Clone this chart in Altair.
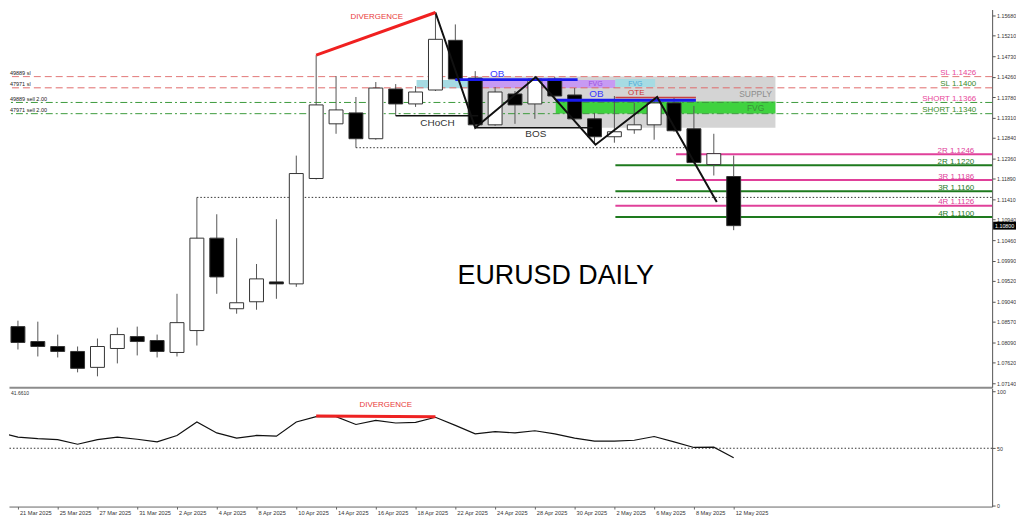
import altair as alt
import pandas as pd

FONT = "Liberation Sans"

# ---------------- data ----------------
dates = ["20 Mar 2025", "21 Mar 2025", "24 Mar 2025", "25 Mar 2025", "26 Mar 2025", "27 Mar 2025",
         "28 Mar 2025", "31 Mar 2025", "1 Apr 2025", "2 Apr 2025", "3 Apr 2025", "4 Apr 2025",
         "7 Apr 2025", "8 Apr 2025", "9 Apr 2025", "10 Apr 2025", "11 Apr 2025", "14 Apr 2025",
         "15 Apr 2025", "16 Apr 2025", "17 Apr 2025", "18 Apr 2025", "21 Apr 2025", "22 Apr 2025",
         "23 Apr 2025", "24 Apr 2025", "25 Apr 2025", "28 Apr 2025", "29 Apr 2025", "30 Apr 2025",
         "1 May 2025", "2 May 2025", "5 May 2025", "6 May 2025", "7 May 2025", "8 May 2025",
         "9 May 2025", "12 May 2025"]
opens = [1.08987, 1.08456, 1.08110, 1.07994, 1.07879, 1.07510, 1.07948, 1.08225, 1.08133, 1.07856,
         1.08364, 1.10510, 1.08871, 1.09033, 1.09494, 1.09448, 1.11895, 1.13164, 1.13418, 1.12818,
         1.13972, 1.13626, 1.13949, 1.15103, 1.14226, 1.13141, 1.13857, 1.13626, 1.14203, 1.13834,
         1.13280, 1.12864, 1.13026, 1.13141, 1.13649, 1.13049, 1.12218, 1.11941]
highs = [1.09056, 1.08594, 1.08571, 1.08271, 1.07994, 1.08179, 1.08433, 1.08456, 1.08271, 1.09218,
         1.11456, 1.11064, 1.10510, 1.09910, 1.10949, 1.12426, 1.14757, 1.14272, 1.13787, 1.14134,
         1.14087, 1.14041, 1.15749, 1.15472, 1.14387, 1.14018, 1.13926, 1.14272, 1.14249, 1.13995,
         1.13418, 1.13810, 1.13649, 1.13787, 1.13787, 1.13580, 1.12933, 1.12426]
lows = [1.08456, 1.07925, 1.07763, 1.07740, 1.07394, 1.07302, 1.07602, 1.07787, 1.07740, 1.07763,
        1.08017, 1.09218, 1.08756, 1.08848, 1.09102, 1.09379, 1.11872, 1.12933, 1.12610, 1.12795,
        1.13349, 1.13557, 1.13926, 1.14180, 1.13072, 1.13118, 1.13164, 1.13280, 1.13718, 1.13257,
        1.12703, 1.12726, 1.12933, 1.12795, 1.12980, 1.12240, 1.11964, 1.10695]
closes = [1.08502, 1.08087, 1.07994, 1.07879, 1.07487, 1.07994, 1.08271, 1.08110, 1.07879, 1.08548,
          1.10510, 1.09610, 1.09010, 1.09564, 1.09448, 1.12010, 1.13603, 1.13487, 1.12818, 1.13995,
          1.13626, 1.13903, 1.15126, 1.14203, 1.13141, 1.13903, 1.13603, 1.14203, 1.13810, 1.13280,
          1.12864, 1.12980, 1.13141, 1.13649, 1.13003, 1.12264, 1.12472, 1.10800]
osc = [63.9, 59.8, 58.4, 57.6, 53.5, 57.6, 59.8, 57.9, 55.6, 61.2, 73.0, 63.4, 58.9, 61.2, 60.6,
       73.0, 77.7, 77.7, 70.8, 74.4, 72.1, 72.7, 77.1, 70.0, 62.6, 64.5, 63.4, 65.3, 62.6, 58.9,
       56.2, 56.2, 57.0, 60.3, 55.6, 50.7, 51.0, 41.661]

price_ticks = [1.07140, 1.07620, 1.08090, 1.08570, 1.09040, 1.09520, 1.09990, 1.10460, 1.10940,
               1.11410, 1.11890, 1.12360, 1.12840, 1.13310, 1.13780, 1.14260, 1.14730, 1.15210, 1.15680]

# zones (bar-index span, price span)
zone_start = [24.0, 21.05, 24.05, 31.05, 28.05]
zone_end = [39.1, 24.0, 31.05, 33.05, 39.1]
zone_top = [1.14260, 1.14180, 1.14180, 1.14203, 1.13683]
zone_bottom = [1.13072, 1.13988, 1.13995, 1.14018, 1.13406]
zone_color = ["#d4d4d4", "#a6dbe3", "#c79af3", "#a6dbe3", "#3fd23f"]

# order levels
level_names = ["SL 1.1426", "SL 1.1400", "SHORT 1.1366", "SHORT 1.1340"]
level_prices = [1.1426, 1.1400, 1.1366, 1.1340]
level_kind = ["sl", "sl", "short", "short"]
level_line_colors = ["#e27878", "#e06a6a", "#3c9a3c", "#3c9a3c"]
level_text_colors = ["#e8489a", "#3a8a2a", "#e8489a", "#3a8a2a"]
left_tags = ["49889 sl", "47971 sl", "49889 sell 2.00", "47971 sell 2.00"]

# targets
target_names = ["2R 1.1246", "2R 1.1220", "3R 1.1186", "3R 1.1160", "4R 1.1126", "4R 1.1100"]
target_prices = [1.1246, 1.1220, 1.1186, 1.1160, 1.1126, 1.1100]
target_start = [34.1, 31.05, 34.1, 31.05, 31.05, 31.05]
target_colors = ["#e0409a", "#1e7a1e", "#e0409a", "#1e7a1e", "#e0409a", "#1e7a1e"]

# structure lines
struct_start = [23.0, 28.05, 31.05, 20.0, 24.0]
struct_end = [29.15, 35.1, 35.1, 24.15, 29.9]
struct_price = [1.14190, 1.13711, 1.13776, 1.13349, 1.13072]
struct_color = ["#1a1aee", "#1a1aee", "#c84040", "#111111", "#111111"]
struct_width = [3, 3, 1.5, 1.5, 1.5]

dotted_start = [18.0, 10.0]
dotted_end = [34.65, 50.0]
dotted_price = [1.12610, 1.11456]

zig_x = [22, 24, 27.05, 30.05, 33.15, 36.15]
zig_p = [1.15749, 1.13072, 1.14249, 1.12680, 1.13787, 1.11348]

div_x = [16, 22]
div_p = [1.14757, 1.15749]

ann_text = ["DIVERGENCE", "EURUSD DAILY", "CHoCH", "BOS", "OB", "OB", "OTE", "FVG", "FVG", "SUPPLY", "FVG"]
ann_x = [19.05, 28.05, 22.1, 27.05, 25.1, 30.1, 32.1, 30.05, 32.05, 38.1, 38.1]
ann_p = [1.15634, 1.09633, 1.13187, 1.12933, 1.14325, 1.13857, 1.13880, 1.14087, 1.14087, 1.13857, 1.13540]
ann_color = ["#e83a3a", "#000000", "#333333", "#333333", "#3a3aff", "#3a3aff", "#cc3333",
             "#9b4fe0", "#49a9d9", "#8c8c8c", "#3a8f3a"]
ann_size = [8, 27, 10, 10, 10, 10, 8, 7, 7, 8.5, 8.5]

current_price = 1.10800

osc_div_x = [16, 22]
osc_div_v = [78.3, 77.5]

# ---------------- frames ----------------
candles = pd.DataFrame({"i": list(range(len(dates))), "date": dates, "open": opens,
                        "high": highs, "low": lows, "close": closes})
zones = pd.DataFrame({"x1": zone_start, "x2": zone_end, "p1": zone_top, "p2": zone_bottom, "c": zone_color})
lv = pd.DataFrame({"name": level_names, "p": level_prices, "kind": level_kind,
                   "lc": level_line_colors, "tc": level_text_colors, "tag": left_tags})
tg = pd.DataFrame({"name": target_names, "p": target_prices, "x1": target_start, "c": target_colors})
st = pd.DataFrame({"x1": struct_start, "x2": struct_end, "p": struct_price, "c": struct_color, "w": struct_width})
dt = pd.DataFrame({"x1": dotted_start, "x2": dotted_end, "p": dotted_price})
zz = pd.DataFrame({"x": zig_x, "p": zig_p})
dv = pd.DataFrame({"x": div_x, "p": div_p})
ann = pd.DataFrame({"t": ann_text, "x": ann_x, "p": ann_p, "c": ann_color, "s": ann_size})
cur = pd.DataFrame({"p": [current_price], "t": [f"{current_price:.5f}"]})
oscdf = pd.DataFrame({"i": list(range(len(osc))), "v": osc})
odv = pd.DataFrame({"x": osc_div_x, "v": osc_div_v})

# ---------------- scales / axes ----------------
xs = alt.Scale(domain=[0.55, 50.0], nice=False, zero=False, padding=0)
ys = alt.Scale(domain=[1.07048, 1.15818], nice=False, zero=False, padding=0)
vs = alt.Scale(domain=[-1.0, 102.5], nice=False, zero=False, padding=0)

x_top_axis = alt.Axis(labels=False, ticks=False, domainColor="#8c8c8c", domainWidth=2,
                      grid=False, title=None, minExtent=0)
y_axis = alt.Axis(orient="right", values=price_ticks, format=".5f", labelFontSize=5.3,
                  labelColor="#333333", tickSize=3, tickColor="#555555", domainColor="#555555",
                  grid=False, title=None, labelPadding=1.5, labelFont=FONT, labelOverlap=False)

label_expr = "[" + ",".join("'" + d + "'" for d in dates) + "][datum.value]"
x_bot_axis = alt.Axis(values=list(range(1, len(dates), 2)), labelExpr=label_expr, labelAlign="left",
                      labelBaseline="top", labelFontSize=5.7, labelColor="#333333", labelPadding=1,
                      labelOffset=1.5, labelOverlap=False, labelFlush=False, tickSize=2.5,
                      tickColor="#666666", domainColor="#666666", grid=False, title=None, labelFont=FONT)
v_axis = alt.Axis(orient="right", values=[0, 50, 100], format="d", labelFontSize=5.3,
                  labelColor="#333333", tickSize=3, tickColor="#555555", domainColor="#555555",
                  grid=False, title=None, labelPadding=1.5, labelFont=FONT)


def TX(f):
    return alt.X(f, scale=xs, axis=x_top_axis)


def TY(f):
    return alt.Y(f, scale=ys, axis=y_axis)


def BX(f):
    return alt.X(f, scale=xs, axis=x_bot_axis)


def BY(f):
    return alt.Y(f, scale=vs, axis=v_axis)


# ---------------- top panel ----------------
zone_layer = alt.Chart(zones).mark_rect().encode(
    x=TX("x1:Q"), x2="x2:Q", y=TY("p1:Q"), y2="p2:Q",
    color=alt.Color("c:N", scale=None))

sl_rules = alt.Chart(lv).transform_filter("datum.kind == 'sl'").mark_rule(
    strokeDash=[7, 4], strokeWidth=1).encode(
    y=TY("p:Q"), color=alt.Color("lc:N", scale=None))
short_rules = alt.Chart(lv).transform_filter("datum.kind == 'short'").mark_rule(
    strokeDash=[7, 3, 2, 3], strokeWidth=1).encode(
    y=TY("p:Q"), color=alt.Color("lc:N", scale=None))
level_text = alt.Chart(lv).transform_calculate(lx="49.2").mark_text(
    align="right", baseline="alphabetic", dy=-1.5, fontSize=8, font=FONT).encode(
    x=TX("lx:Q"), y=TY("p:Q"), text="name:N", color=alt.Color("tc:N", scale=None))
tag_text = alt.Chart(lv).mark_text(align="left", baseline="alphabetic", dy=-1.5,
                                   fontSize=5.5, font=FONT, color="#222222").encode(
    x=alt.value(1), y=TY("p:Q"), text="tag:N")

tg_rules = alt.Chart(tg).mark_rule(strokeWidth=2).encode(
    x=TX("x1:Q"), x2=alt.value(989), y=TY("p:Q"), color=alt.Color("c:N", scale=None))
tg_text = alt.Chart(tg).transform_calculate(lx="49.1").mark_text(
    align="right", baseline="alphabetic", dy=-1.5, fontSize=8, font=FONT).encode(
    x=TX("lx:Q"), y=TY("p:Q"), text="name:N", color=alt.Color("c:N", scale=None))

dotted = alt.Chart(dt).mark_rule(strokeDash=[1.5, 2], strokeWidth=1, color="#333333").encode(
    x=TX("x1:Q"), x2="x2:Q", y=TY("p:Q"))

wicks = alt.Chart(candles).mark_rule(color="#555555", strokeWidth=1, clip=True).encode(
    x=TX("i:Q"), y=TY("low:Q"), y2="high:Q")
bodies = alt.Chart(candles).mark_bar(size=14, stroke="#333333", strokeWidth=1, clip=True).encode(
    x=TX("i:Q"), y=TY("open:Q"), y2="close:Q",
    color=alt.condition("datum.close >= datum.open", alt.value("white"), alt.value("black")))

struct = alt.Chart(st).mark_rule().encode(
    x=TX("x1:Q"), x2="x2:Q", y=TY("p:Q"),
    color=alt.Color("c:N", scale=None), strokeWidth=alt.StrokeWidth("w:Q", scale=None))

zig = alt.Chart(zz).mark_line(color="#111111", strokeWidth=2, clip=True).encode(x=TX("x:Q"), y=TY("p:Q"))
div = alt.Chart(dv).mark_line(color="#f02020", strokeWidth=3, clip=True).encode(x=TX("x:Q"), y=TY("p:Q"))

ann_layer = alt.Chart(ann).mark_text(align="center", baseline="middle", font=FONT).encode(
    x=TX("x:Q"), y=TY("p:Q"), text="t:N",
    color=alt.Color("c:N", scale=None), size=alt.Size("s:Q", scale=None))

cur_rect = alt.Chart(cur).transform_calculate(
    lo="datum.p - 0.00092", hi="datum.p + 0.00092").mark_rect(color="black").encode(
    x=alt.value(990), x2=alt.value(1013), y=TY("lo:Q"), y2="hi:Q")
cur_text = alt.Chart(cur).mark_text(color="white", fontSize=5.3, font=FONT,
                                    align="center", baseline="middle").encode(
    x=alt.value(1001.5), y=TY("p:Q"), text="t:N")

top = alt.layer(zone_layer, sl_rules, short_rules, tg_rules, dotted, wicks, bodies, struct,
                zig, div, level_text, tg_text, tag_text, ann_layer, cur_rect, cur_text
                ).properties(width=989, height=380)

# ---------------- bottom panel ----------------
line50 = alt.Chart(pd.DataFrame({"v": [50]})).mark_rule(
    strokeDash=[1.5, 2], strokeWidth=1, color="#333333").encode(y=BY("v:Q"))
osc_line = alt.Chart(oscdf).mark_line(color="#111111", strokeWidth=1.2, clip=True).encode(
    x=BX("i:Q"), y=BY("v:Q"))
osc_div = alt.Chart(odv).mark_line(color="#ee2222", strokeWidth=3).encode(
    x=BX("x:Q"), y=BY("v:Q"))
osc_lbl = alt.Chart(pd.DataFrame({"t": ["DIVERGENCE"]})).transform_calculate(
    lx="19.5", ly="88.0").mark_text(
    color="#e83a3a", fontSize=8, font=FONT, align="center", baseline="middle").encode(
    x=BX("lx:Q"), y=BY("ly:Q"), text="t:N")
osc_val = alt.Chart(pd.DataFrame({"t": [f"{osc[-1]:.4f}"]})).mark_text(
    color="#333333", fontSize=5, font=FONT, align="left", baseline="middle").encode(
    x=alt.value(2), y=alt.value(5), text="t:N")

bottom = alt.layer(line50, osc_line, osc_div, osc_lbl, osc_val).properties(width=989, height=119)

chart = alt.vconcat(top, bottom, spacing=1).properties(
    padding=0, background="white").configure_view(stroke=None)

chart.save("out.html", embed_options={"renderer": "svg", "actions": False})
